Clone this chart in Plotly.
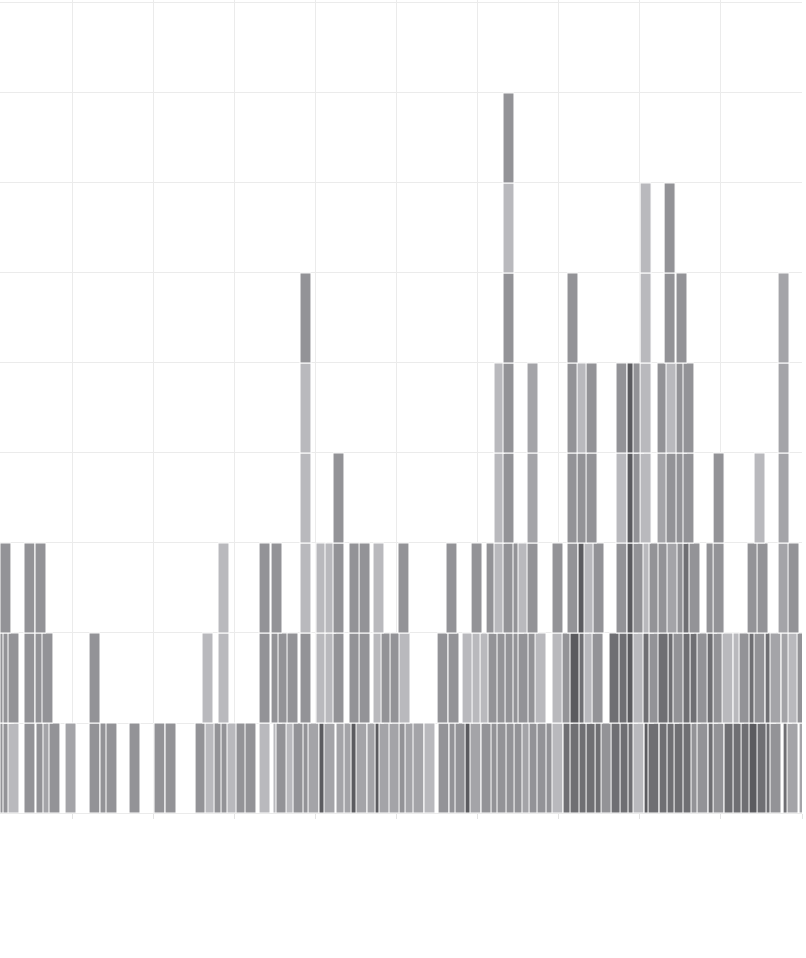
import plotly.graph_objects as go

# ---- data: start position (x units) and shade code of each unit block, per stack level ----
level1_start = [1.12, 1.49, 2.11, 4.08, 5.56, 6.42, 7.16, 9.14, 12.10, 13.45, 14.19, 17.03, 20.11, 21.47,
                25.17, 26.40, 27.51, 28.37, 29.11, 30.22, 31.33, 33.06, 34.78, 35.15, 36.39, 37.25, 38.48,
                39.10, 40.45, 41.07, 42.55, 43.54, 44.40, 45.02, 46.37, 47.36, 47.85, 49.08, 50.32, 51.06,
                52.04, 53.40, 55.13, 56.48, 57.22, 58.46, 59.07, 60.43, 61.66, 62.40, 63.51, 64.50, 65.48,
                66.35, 67.33, 68.44, 69.18, 70.54, 71.40, 72.51, 73.38, 74.49, 75.23, 76.46, 77.57, 78.55,
                79.17, 80.53, 81.02, 82.38, 83.36, 84.23, 85.33, 86.32, 87.06, 88.42, 89.04, 90.39, 91.50,
                92.49, 93.47, 94.46, 95.57, 96.06, 97.67, 98.16, 99.64]
level1_shade = [3, 3, 5, 3, 3, 4, 3, 4, 3, 3, 3, 3, 3, 3,
                3, 5, 3, 3, 5, 3, 3, 5, 5, 3, 5, 3, 3,
                4, 1, 4, 4, 4, 1, 4, 4, 1, 4, 4, 3, 4,
                4, 5, 3, 3, 3, 1, 4, 3, 3, 3, 3, 3, 4,
                3, 3, 3, 5, 2, 2, 2, 2, 2, 3, 2, 2, 2,
                5, 1, 2, 2, 2, 2, 2, 3, 3, 2, 3, 2, 2,
                2, 1, 2, 2, 3, 2, 4, 4]

level2_start = [1.12, 1.49, 2.11, 4.08, 5.44, 6.30, 12.10, 26.03, 28.00, 33.06, 34.54, 35.40, 36.51,
                38.11, 40.08, 41.19, 42.18, 44.15, 45.39, 47.11, 48.10, 49.21, 50.32, 55.01, 56.36,
                58.09, 59.32, 60.31, 61.29, 62.40, 63.39, 64.37, 64.99, 66.22, 67.09, 69.18, 70.42,
                71.40, 72.51, 73.13, 74.12, 76.21, 77.44, 78.43, 79.17, 80.40, 81.14, 82.25, 83.49,
                84.10, 85.33, 86.20, 87.06, 88.30, 89.04, 90.15, 91.50, 92.24, 93.47, 94.09, 95.45,
                96.06, 97.42, 98.28, 99.39]
level2_shade = [3, 3, 3, 3, 3, 3, 3, 5, 5, 3, 3, 3, 3,
                3, 5, 5, 3, 3, 3, 5, 3, 3, 5, 3, 3,
                5, 5, 5, 3, 3, 3, 3, 3, 3, 5, 5, 3,
                1, 2, 5, 3, 2, 2, 1, 5, 2, 3, 2, 2,
                3, 2, 2, 3, 2, 3, 5, 5, 3, 2, 3, 2,
                4, 4, 5, 3]

level3_start = [1.12, 4.08, 5.44, 28.00, 33.06, 34.54, 38.11, 40.08, 41.19, 42.18, 44.15, 45.39, 47.11,
                50.19, 56.11, 59.20, 61.05, 62.03, 63.14, 64.37, 64.99, 66.10, 69.18, 71.03, 72.39,
                73.13, 74.24, 77.07, 78.43, 79.17, 80.40, 81.14, 82.25, 83.36, 84.59, 85.33, 86.07,
                88.17, 89.04, 93.23, 94.46, 97.05, 98.28]
level3_shade = [3, 3, 3, 5, 3, 3, 5, 5, 5, 3, 3, 3, 5,
                3, 3, 3, 3, 5, 3, 3, 5, 3, 3, 3, 1,
                5, 3, 3, 1, 3, 5, 3, 3, 4, 3, 2, 3,
                3, 3, 3, 3, 4, 3]

level4_start = [38.11, 42.18, 62.03, 63.14, 66.10, 71.03, 72.27, 73.38, 77.07, 78.43, 79.17, 80.04,
                82.13, 83.24, 84.47, 85.33, 89.04, 94.09, 97.05]
level4_shade = [5, 3, 5, 3, 4, 3, 3, 3, 5, 1, 3, 5,
                4, 3, 3, 3, 3, 5, 4]

level5_start = [38.11, 62.03, 63.14, 66.10, 71.03, 72.27, 73.38, 77.07, 78.43, 79.17, 80.04,
                82.13, 83.24, 84.47, 85.33, 97.05]
level5_shade = [5, 5, 3, 4, 3, 5, 3, 3, 1, 3, 5,
                3, 5, 3, 3, 4]

level6_start = [38.11, 63.14, 71.03, 80.04, 83.00, 84.47, 97.05]
level6_shade = [3, 3, 3, 5, 3, 3, 4]

level7_start = [63.14, 80.04, 83.00]
level7_shade = [5, 5, 3]

level8_start = [63.14]
level8_shade = [3]

levels = [
    (level1_start, level1_shade),
    (level2_start, level2_shade),
    (level3_start, level3_shade),
    (level4_start, level4_shade),
    (level5_start, level5_shade),
    (level6_start, level6_shade),
    (level7_start, level7_shade),
    (level8_start, level8_shade),
]

# ---- styles ----
PALETTE = {1: "#5b5b5f", 2: "#6f6f73", 3: "#939397", 4: "#a4a4a8", 5: "#b9b9bd"}
BAR_W = 1.35
GRID = "#ebebeb"

fig = go.Figure()
for lvl, (starts, shades) in enumerate(levels):
    fig.add_trace(go.Bar(
        x=[s + BAR_W / 2 for s in starts],
        y=[1] * len(starts),
        base=[lvl] * len(starts),
        width=BAR_W,
        marker=dict(color=[PALETTE[c] for c in shades], line=dict(color="white", width=1)),
        showlegend=False,
        hoverinfo="skip",
    ))

fig.update_layout(
    width=806, height=958,
    barmode="overlay",
    margin=dict(l=0, r=4, t=0, b=145),
    paper_bgcolor="white", plot_bgcolor="white",
    xaxis=dict(range=[1.12, 100], tick0=0, dtick=10, showgrid=True, gridcolor=GRID, gridwidth=1,
               showticklabels=False, ticks="outside", ticklen=5, tickcolor="#e4e4e4",
               zeroline=False, showline=False, fixedrange=True),
    yaxis=dict(range=[0, 9.033], tick0=0, dtick=1, showgrid=True, gridcolor=GRID, gridwidth=1,
               showticklabels=False, zeroline=True, zerolinecolor=GRID, zerolinewidth=1,
               showline=False, fixedrange=True),
)

fig.write_html("out.html", config={"displayModeBar": False},
               post_script="document.body.style.margin='0px';document.body.style.overflow='hidden';")
